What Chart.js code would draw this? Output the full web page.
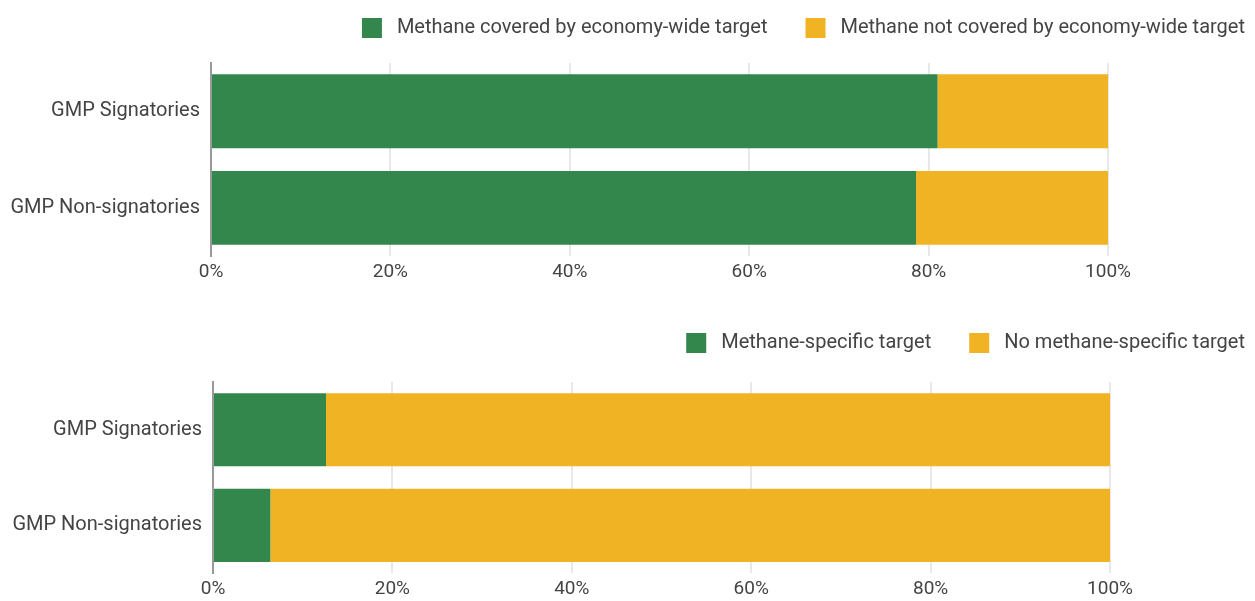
<!DOCTYPE html>
<html>
<head>
<meta charset="utf-8">
<script src="https://cdn.jsdelivr.net/npm/chart.js@4"></script>
<style>
  html, body { margin: 0; padding: 0; background: #fff; }
  .wrap { position: absolute; left: 0; width: 1255px; }
  #top { top: 0; height: 300px; }
  #bottom { top: 300px; height: 301px; }
</style>
</head>
<body>
<div class="wrap" id="top"><canvas id="coverageChart"></canvas></div>
<div class="wrap" id="bottom"><canvas id="specificChart"></canvas></div>
<script>
const categories = ['GMP Signatories', 'GMP Non-signatories'];

// share of methane emissions, percent
const coveredByTarget = [81.0, 78.6];
const notCoveredByTarget = [19.0, 21.4];
const specificTarget = [12.6, 6.4];
const noSpecificTarget = [87.4, 93.6];

const xTicks = [0, 20, 40, 60, 80, 100];

const GREEN = '#33874c';
const YELLOW = '#f0b323';
const TEXT = '#444444';

Chart.defaults.font.family = 'Roboto, "Noto Sans", sans-serif';
Chart.defaults.color = TEXT;

// fixed legend block height so the plot starts where we want it
const legendHeight = {
  id: 'legendHeight',
  beforeInit(chart, args, opts) {
    const fit = chart.legend.fit;
    chart.legend.fit = function () {
      fit.call(this);
      this.height = opts.height;
    };
  }
};

// default legend items, with a little more room between swatch and text
function spacedLabels(chart) {
  return Chart.defaults.plugins.legend.labels.generateLabels(chart)
    .map(item => Object.assign(item, { text: ' ' + item.text }));
}

function stackedOptions(lay) {
  return {
    indexAxis: 'y',
    responsive: true,
    maintainAspectRatio: false,
    animation: false,
    layout: { padding: { top: lay.top, right: -28, left: 0, bottom: lay.bottom } },
    plugins: {
      legendHeight: { height: lay.legend },
      legend: {
        align: 'end',
        labels: {
          boxWidth: 20,
          boxHeight: 20,
          padding: 38,
          font: { size: 20 },
          color: TEXT,
          generateLabels: spacedLabels
        }
      },
      tooltip: { enabled: false }
    },
    scales: {
      x: {
        stacked: true,
        min: 0,
        max: 100,
        afterBuildTicks: axis => { axis.ticks = xTicks.map(v => ({ value: v })); },
        grid: { color: '#e8e8e8', lineWidth: 2, drawTicks: false },
        border: { display: false },
        ticks: { font: { size: 19 }, padding: 5, callback: v => v + '%' }
      },
      y: {
        stacked: true,
        afterFit: axis => { axis.width = lay.axisLeft; },
        grid: { display: false, drawTicks: false },
        border: { display: true, color: '#999999', width: 2 },
        ticks: { font: { size: 20 }, padding: 11 }
      },
      spacer: {
        type: 'category',
        position: 'right',
        afterFit: axis => { axis.width = lay.axisRight; },
        grid: { display: false, drawTicks: false },
        border: { display: false },
        ticks: { display: false }
      }
    }
  };
}

new Chart(document.getElementById('coverageChart'), {
  type: 'bar',
  plugins: [legendHeight],
  data: {
    labels: categories,
    datasets: [
      { label: 'Methane covered by economy-wide target', data: coveredByTarget,
        backgroundColor: GREEN, categoryPercentage: 1, barPercentage: 0.765 },
      { label: 'Methane not covered by economy-wide target', data: notCoveredByTarget,
        backgroundColor: YELLOW, categoryPercentage: 1, barPercentage: 0.765 }
    ]
  },
  options: stackedOptions({ top: -20, legend: 83, bottom: 11, axisLeft: 211, axisRight: 175 })
});

new Chart(document.getElementById('specificChart'), {
  type: 'bar',
  plugins: [legendHeight],
  data: {
    labels: categories,
    datasets: [
      { label: 'Methane-specific target', data: specificTarget,
        backgroundColor: GREEN, categoryPercentage: 1, barPercentage: 0.765 },
      { label: 'No methane-specific target', data: noSpecificTarget,
        backgroundColor: YELLOW, categoryPercentage: 1, barPercentage: 0.765 }
    ]
  },
  options: stackedOptions({ top: -5, legend: 87, bottom: -5, axisLeft: 213, axisRight: 173 })
});
</script>
</body>
</html>
